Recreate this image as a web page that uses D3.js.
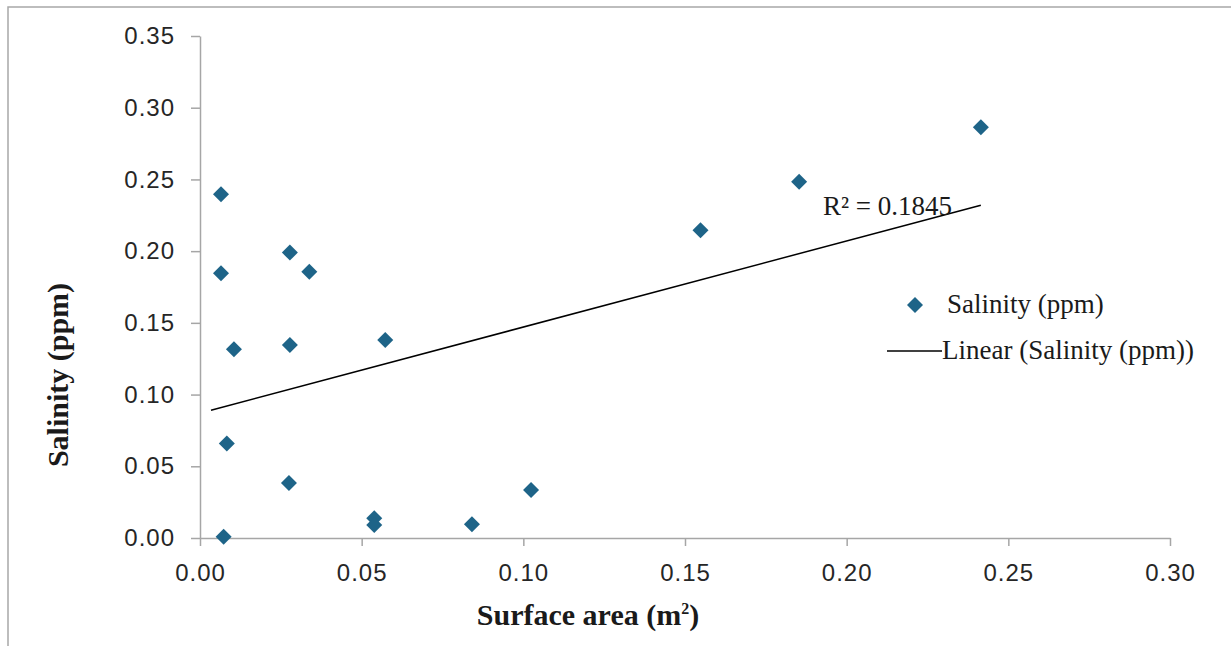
<!DOCTYPE html>
<html>
<head>
<meta charset="utf-8">
<script src="https://cdn.jsdelivr.net/npm/d3@7"></script>
<style>
  html, body { margin: 0; padding: 0; background: #fff; }
  svg { display: block; }
  .tick text { font-family: "Liberation Sans", Arial, sans-serif; font-size: 24px; letter-spacing: 1px; fill: #262626; }
  .tick line, .domain { stroke: #a6a6a6; stroke-width: 1.5; }
</style>
</head>
<body>
<svg id="chart" width="1231" height="646"></svg>
<script>
// --- data ---
const surfaceArea = [0.0065, 0.0065, 0.0105, 0.0278, 0.0338, 0.0278, 0.0573, 0.0083, 0.0275,
  0.0073, 0.0539, 0.0539, 0.0841, 0.1024, 0.1548, 0.1853, 0.2415];
const salinity = [0.2397, 0.1846, 0.1316, 0.1990, 0.1857, 0.1346, 0.1381, 0.0658, 0.0384,
  0.0009, 0.0137, 0.0091, 0.0096, 0.0335, 0.2146, 0.2483, 0.2864];
const xTicks = [0, 0.05, 0.10, 0.15, 0.20, 0.25, 0.30];
const yTicks = [0, 0.05, 0.10, 0.15, 0.20, 0.25, 0.30, 0.35];
const trendRange = [0.0034, 0.2415]; // x span of the trendline as drawn
const rSquaredLabel = 'R² = 0.1845';
const legendLabels = ['Salinity (ppm)', 'Linear (Salinity (ppm))'];

const points = surfaceArea.map((x, i) => ({ x, y: salinity[i] }));
const markerColor = '#1e6488';

const svg = d3.select('#chart');

// outer chart border (only top/left visible in the crop)
svg.append('rect')
  .attr('x', 8).attr('y', 7)
  .attr('width', 1400).attr('height', 800)
  .attr('fill', 'none')
  .attr('stroke', '#a8a8a8')
  .attr('stroke-width', 1.5);

const x = d3.scaleLinear().domain([0, 0.30]).range([200, 1170]);
const y = d3.scaleLinear().domain([0, 0.35]).range([538, 36]);

// axes
svg.append('g')
  .attr('transform', `translate(0,${y(0)})`)
  .call(d3.axisBottom(x).tickValues(xTicks).tickFormat(d3.format('.2f'))
    .tickSize(8).tickSizeOuter(0).tickPadding(18));

svg.append('g')
  .attr('transform', `translate(${x(0)},0)`)
  .call(d3.axisLeft(y).tickValues(yTicks).tickFormat(d3.format('.2f'))
    .tickSize(9).tickSizeOuter(0).tickPadding(16));

// least-squares trendline computed from the points
const mx = d3.mean(points, d => d.x), my = d3.mean(points, d => d.y);
const sxy = d3.sum(points, d => (d.x - mx) * (d.y - my));
const sxx = d3.sum(points, d => (d.x - mx) ** 2);
const slope = sxy / sxx, intercept = my - slope * mx;

svg.append('path')
  .datum(trendRange.map(t => [t, intercept + slope * t]))
  .attr('d', d3.line().x(d => x(d[0])).y(d => y(d[1])))
  .attr('fill', 'none')
  .attr('stroke', '#000')
  .attr('stroke-width', 1.5);

// diamond markers (rotated squares)
const diamond = d3.symbol().type(d3.symbolSquare).size(128);
svg.append('g').selectAll('path.pt')
  .data(points)
  .join('path')
  .attr('class', 'pt')
  .attr('d', diamond)
  .attr('transform', d => `translate(${x(d.x)},${y(d.y)}) rotate(45)`)
  .attr('fill', markerColor);

// R² label
svg.append('text')
  .attr('x', 823).attr('y', 215)
  .attr('font-family', '"Liberation Serif", "Times New Roman", serif')
  .attr('font-size', 27)
  .attr('fill', '#1a1a1a')
  .text(rSquaredLabel);

// legend
const legend = svg.append('g')
  .attr('font-family', '"Liberation Serif", "Times New Roman", serif')
  .attr('font-size', 27)
  .attr('fill', '#1a1a1a');

legend.append('path')
  .attr('d', diamond)
  .attr('transform', 'translate(915,305) rotate(45)')
  .attr('fill', markerColor);
legend.append('text').attr('x', 947).attr('y', 313).text(legendLabels[0]);

legend.append('line')
  .attr('x1', 887).attr('x2', 942).attr('y1', 351).attr('y2', 351)
  .attr('stroke', '#000').attr('stroke-width', 1.5);
legend.append('text').attr('x', 942).attr('y', 359).text(legendLabels[1]);

// axis titles
const xTitle = svg.append('text')
  .attr('x', 588).attr('y', 625)
  .attr('text-anchor', 'middle')
  .attr('font-family', '"Liberation Serif", "Times New Roman", serif')
  .attr('font-size', 30)
  .attr('font-weight', 'bold')
  .attr('fill', '#1a1a1a');
xTitle.append('tspan').text('Surface area (m');
xTitle.append('tspan').attr('font-size', 16).attr('dy', -11).text('2');
xTitle.append('tspan').attr('dy', 11).text(')');

svg.append('text')
  .attr('transform', 'translate(68,375) rotate(-90)')
  .attr('text-anchor', 'middle')
  .attr('font-family', '"Liberation Serif", "Times New Roman", serif')
  .attr('font-size', 30)
  .attr('font-weight', 'bold')
  .attr('fill', '#1a1a1a')
  .text('Salinity (ppm)');
</script>
</body>
</html>
